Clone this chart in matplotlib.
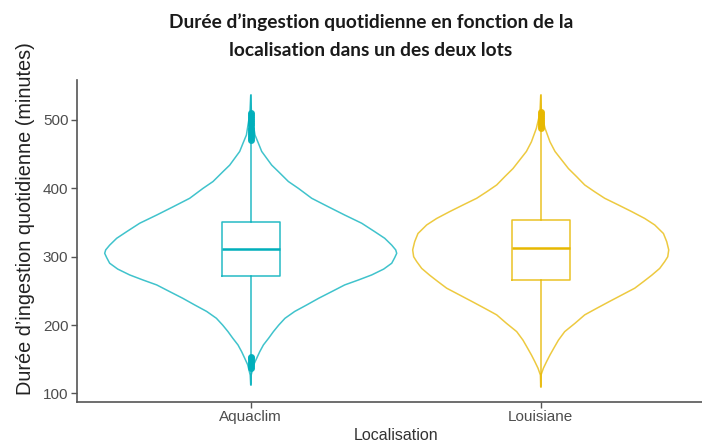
import numpy as np
import matplotlib.pyplot as plt

# catégories et couleurs (palette ggpubr)
categories = ["Aquaclim", "Louisiane"]
colors = ["#00AFBB", "#E7B800"]

# profil des violons : valeur (minutes) et densité relative
aqua_y = [536, 510, 478, 466, 454, 444, 434, 424.5, 410, 400, 385.5, 373, 361,
          349, 336.7, 327, 317, 310, 305, 298.7, 290.5, 282, 273.4, 266, 258.8,
          249, 239.3, 229.5, 220, 210, 200, 190.5, 181, 171, 161, 151.6, 142,
          127, 113]
aqua_dens = [0, 0.8, 4.3, 7.7, 11, 16, 21, 27.7, 37.7, 47.7, 61, 77.7, 94,
             111, 124, 134, 141, 145, 146, 144, 141, 133, 121, 107.7, 94,
             81, 68, 56, 44, 34.3, 28, 22.7, 18, 12.7, 9, 6, 3, 0.5, 0]
loui_y = [536, 510, 488, 468, 454, 441.5, 429, 417, 405, 395, 385.5, 375.7,
          366, 356, 346.5, 334, 322, 310, 300, 293, 283, 273, 263.6, 254, 244,
          234, 224.6, 215, 202.7, 190.5, 178, 166, 156.4, 147, 137, 127, 110]
loui_dens = [0, 0.8, 4.3, 9.3, 14.3, 21, 27.7, 36, 44, 54, 64, 77.7, 91, 104,
             114, 122.7, 126, 128, 127, 124, 119, 111, 102.7, 94, 81, 68, 56,
             44, 34.3, 24, 17.7, 13, 9.3, 6, 2.7, 0.3, 0]

# statistiques des boîtes
q1 = [272, 266]
med = [311, 312.4]
q3 = [351.4, 353.8]
whislo = [113, 110]
whishi = [536, 536]
fliers = [
    [471, 474, 477, 480, 483, 486, 489, 492, 495, 498, 501, 504, 507, 510,
     137, 140, 143, 146, 149, 152, 154],
    [488, 491, 494, 497, 500, 503, 506, 509, 512],
]

fig = plt.figure(figsize=(7.02, 4.45), dpi=100)
ax = fig.add_axes([76.7 / 702, 43.3 / 445, 638 / 702, 321.7 / 445])

positions = [1, 2]
profiles = [(aqua_y, aqua_dens), (loui_y, loui_dens)]
vwidths = [1.007, 0.883]
for pos, (yy, dd), col, w in zip(positions, profiles, colors, vwidths):
    vp = {"coords": np.array(yy), "vals": np.array(dd, dtype=float),
          "mean": 0, "median": 0, "min": min(yy), "max": max(yy)}
    parts = ax.violin([vp], positions=[pos], widths=w,
                      showmeans=False, showextrema=False)
    for b in parts["bodies"]:
        b.set_facecolor("none")
        b.set_edgecolor(col)
        b.set_linewidth(1.1)
        b.set_alpha(0.75)

for i, (pos, col) in enumerate(zip(positions, colors)):
    st = [{"med": med[i], "q1": q1[i], "q3": q3[i], "whislo": whislo[i],
           "whishi": whishi[i], "fliers": fliers[i], "label": categories[i]}]
    ax.bxp(st, positions=[pos], widths=0.2, showcaps=False, patch_artist=False,
           boxprops=dict(color=col, linewidth=1.1, alpha=0.85),
           whiskerprops=dict(color=col, linewidth=1.1, alpha=0.85),
           medianprops=dict(color=col, linewidth=1.8),
           flierprops=dict(marker="o", markersize=4, markerfacecolor=col,
                           markeredgecolor=col, alpha=0.9))

ax.set_xlim(0.4, 2.6)
ax.set_ylim(88, 558.5)
ax.set_xticks(positions)
ax.set_xticklabels(categories)
ax.set_yticks([100, 200, 300, 400, 500])

for s in ["top", "right"]:
    ax.spines[s].set_visible(False)
for s in ["left", "bottom"]:
    ax.spines[s].set_color("#555555")
    ax.spines[s].set_linewidth(1.2)

ax.tick_params(axis="both", colors="#555555", length=4, width=1,
               labelsize=11, labelcolor="#4D4D4D", pad=2)

ax.set_xlabel("Localisation", fontsize=11.5, color="#333333", labelpad=3,
              family="Liberation Sans")
ax.set_ylabel("Durée d’ingestion quotidienne (minutes)", fontsize=14.3,
              color="#222222", family="Liberation Sans")
ax.yaxis.set_label_coords(-0.066, 0.568)
for lab in ax.get_xticklabels() + ax.get_yticklabels():
    lab.set_family("Liberation Sans")

title_lines = ["Durée d’ingestion quotidienne en fonction de la",
               "localisation dans un des deux lots"]
for line, ypx in zip(title_lines, [22, 50]):
    fig.text(371 / 702, 1 - ypx / 445, line, ha="center", va="center",
             fontsize=13.8, fontweight="bold", family="Lato", color="#1a1a1a")

fig.savefig("out.png", dpi=100)
